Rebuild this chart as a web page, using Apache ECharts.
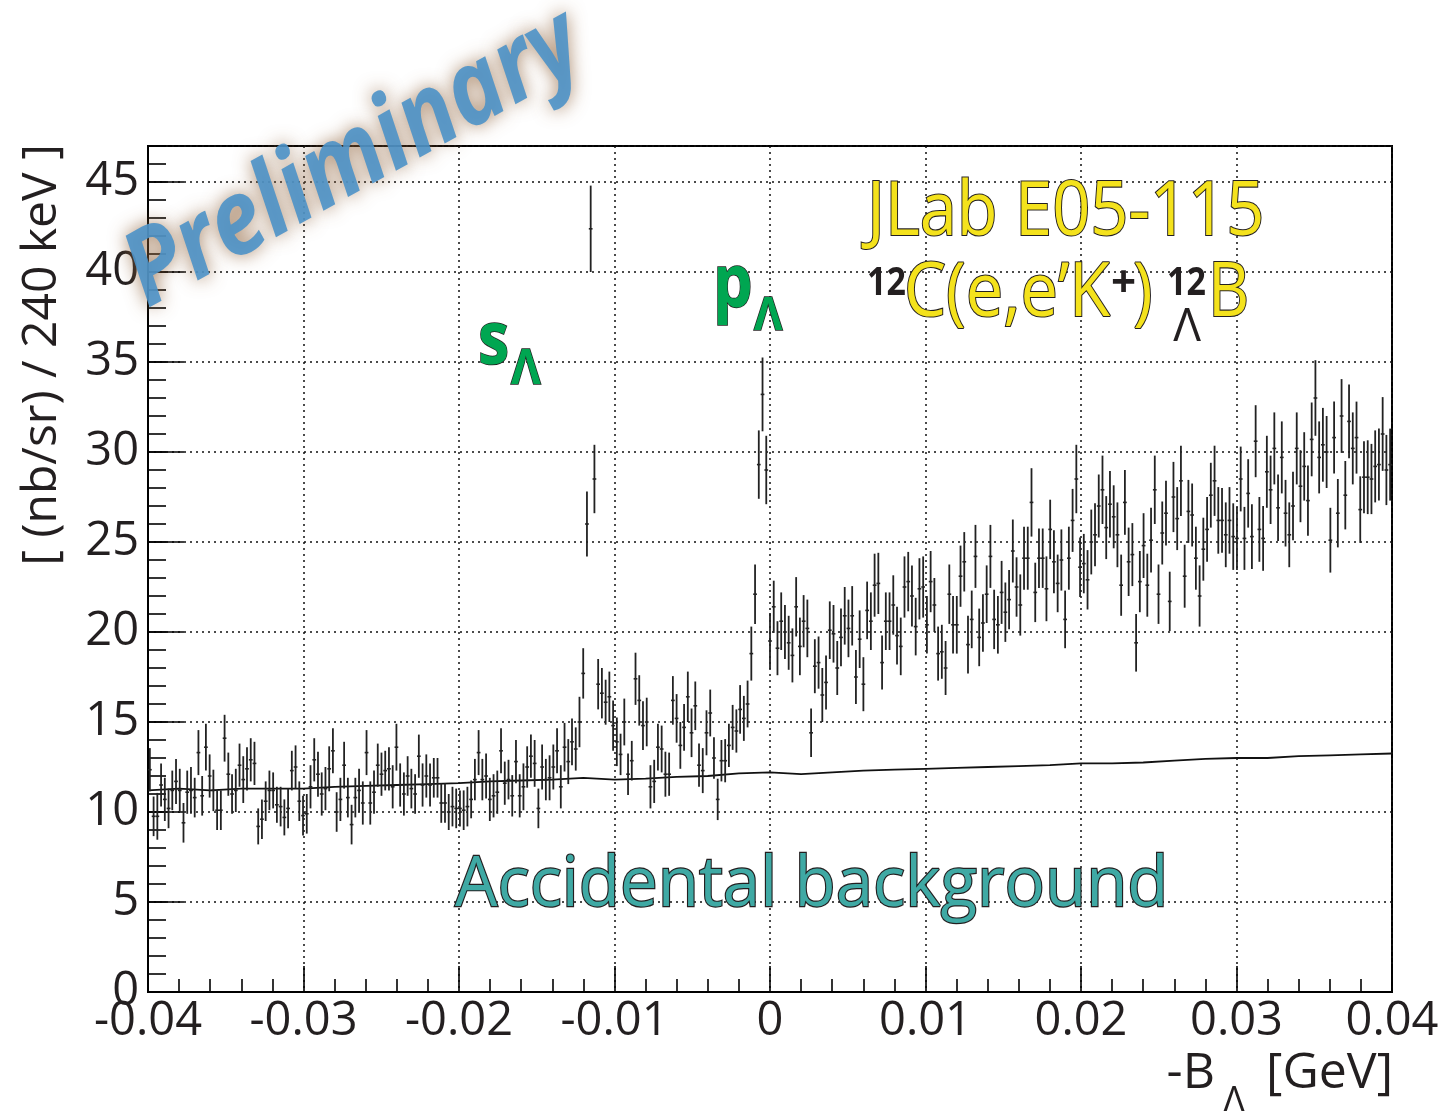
<!DOCTYPE html>
<html><head><meta charset="utf-8">
<script src="https://cdn.jsdelivr.net/npm/echarts@6/dist/echarts.min.js"></script>
<style>html,body{margin:0;padding:0;background:#fff;}#c{width:1448px;height:1111px;}</style>
</head><body><div id="c"></div>
<script>
// ---- axis ranges and tick labels ----
const xMin = -0.04, xMax = 0.04, xStep = 0.01;
const yMin = 0, yMax = 47, yStep = 5;
const xTickLabels = ['-0.04','-0.03','-0.02','-0.01','0','0.01','0.02','0.03','0.04'];
const yTickLabels = ['0','5','10','15','20','25','30','35','40','45'];

// ---- yield per 240 keV bin [(nb/sr)/240 keV], read left to right ----
const yieldSeg1 = [12.35,9.76,9.76,11.5,10.7,10.2,11.2,11.7,11.2,9.4,11.1,11.2,10.8,13.3,10.9,13.6,12.0,11.2,10.1,10.1,14.1,12.1,11.0,11.2,12.6,11.8,12.4,12.9,12.7,9.2,9.6,10.6,11.2,11.2,10.4,10.3,9.7,10.2,12.3,12.5,10.6,9.8,9.9];
const yieldSeg2 = [11.4,12.9,12.1,11.0,11.3,12.4,13.4,10.0,10.7,12.6,10.8,9.3,10.8,11.2,10.5,13.3,10.5,11.1,12.6,12.1,12.3,12.4,11.4,13.6,11.5,11.0,12.0,11.3,11.0,13.1,11.5,12.0,11.5,11.9,11.9,10.5,10.5,10.0,10.3,10.2,10.2,10.1,10.3];
const yieldSeg3 = [10.7,11.8,13.3,11.8,12.0,10.7,10.9,11.1,13.4,11.6,11.8,10.9,12.8,10.9,11.4,12.5,13.1,12.7,10.2,12.5,11.8,11.9,12.5,13.4,11.4,13.6,12.8,13.9,13.5,15.0,17.7,26.0,42.4,28.5,17.1,16.6,16.1,16.4,14.8,13.9,13.2];
const yieldSeg4 = [15.0,12.1,12.85,17.4,16.2,14.8,15.0,11.4,11.7,13.6,13.5,12.1,12.1,16.2,15.2,13.7,14.7,16.4,14.4,15.9,12.6,12.3,14.4,15.5,13.0,10.7,12.85,12.85,13.7,14.7,14.5,15.7,15.2,16.0,18.8,22.1,29.3,33.2,29.0,19.5,21.4,19.1];
const yieldSeg5 = [20.6,20.0,19.4,18.7,21.4,19.2,20.6,20.2,14.4,18.1,18.3,16.5,17.2,20.1,19.9,18.0,19.7,20.9,20.2,20.9,17.5,19.6,17.1,21.2,20.6,22.6,22.7,18.3,20.6,20.6,21.5,19.8,19.2,22.5,22.8,22.0,20.3,22.4,22.5,20.4,22.8];
const yieldSeg6 = [21.5,18.8,18.9,18.0,22.1,20.4,20.4,23.1,23.9,19.3,20.7,24.2,19.7,20.5,22.1,24.2,20.7,20.4,22.2,21.1,21.8,24.5,22.5,21.5,24.1,24.1,27.2,22.2,24.1,24.1,22.4,25.7,23.9,22.7,24.0,20.7,24.1,26.2,28.5,23.6,23.8,22.9];
const yieldSeg7 = [25.0,25.4,27.0,27.9,25.8,27.1,26.4,25.4,22.6,27.2,23.9,24.3,19.4,22.8,24.8,22.6,25.1,27.9,22.1,25.5,26.6,21.7,27.5,26.3,28.4,23.1,26.7,26.5,24.1,22.0,24.6,25.7,27.6,28.4,26.2,26.2,25.4,26.2,25.3];
const yieldSeg8 = [25.2,28.5,25.2,27.7,25.3,30.6,25.7,25.2,28.9,27.9,30.2,26.9,29.7,26.6,25.4,27.0,30.2,28.1,29.2,27.3,30.7,33.0,29.7,30.4,30.0,25.1,30.8,26.6,32.0,27.6,31.7,30.2,30.8,26.8,28.6,28.6,28.5,29.2,29.3,31.0,29.0,29.3];

// ---- statistical error (half length of each error bar) ----
const errSeg1 = [1.2,1.1,1.3,1.2,1.2,1.1,1.1,1.25,1.2,1.1,1.2,1.3,1.1,1.25,1.1,1.3,1.2,1.15,1.1,1.1,1.3,1.2,1.1,1.2,1.2,1.3,1.2,1.2,1.2,1.0,1.1,1.1,1.1,1.0,1.0,1.1,1.0,1.1,1.1,1.2,1.1,1.1,1.1];
const errSeg2 = [1.2,1.2,1.25,1.2,1.2,1.25,1.25,1.1,1.2,1.3,1.1,1.1,1.1,1.2,1.2,1.25,1.2,1.2,1.2,1.2,1.1,1.2,1.2,1.3,1.2,1.2,1.1,1.1,1.1,1.2,1.2,1.2,1.2,1.1,1.1,1.1,1.1,1.0,1.1,1.1,1.0,1.1,1.1];
const errSeg3 = [1.05,1.15,1.25,1.15,1.25,1.2,1.2,1.2,1.25,1.2,1.1,1.15,1.2,1.2,1.3,1.15,1.2,1.3,1.1,1.25,1.15,1.25,1.25,1.25,1.2,1.35,1.25,1.3,1.2,1.4,1.4,1.8,2.4,1.9,1.4,1.4,1.25,1.4,1.4,1.35,1.15];
const errSeg4 = [1.3,1.15,1.1,1.45,1.4,1.35,1.35,1.2,1.2,1.3,1.3,1.25,1.2,1.35,1.35,1.3,1.3,1.4,1.35,1.35,1.2,1.25,1.25,1.3,1.15,1.15,1.15,1.2,1.2,1.25,1.2,1.35,1.25,1.3,1.5,1.65,1.9,2.05,1.9,1.55,1.45,1.5];
const errSeg5 = [1.6,1.5,1.5,1.5,1.65,1.6,1.45,1.6,1.35,1.5,1.45,1.5,1.5,1.6,1.6,1.5,1.6,1.6,1.6,1.65,1.5,1.6,1.5,1.6,1.6,1.75,1.7,1.5,1.6,1.6,1.65,1.6,1.6,1.7,1.65,1.7,1.6,1.7,1.7,1.6,1.7];
const errSeg6 = [1.5,1.5,1.5,1.5,1.65,1.6,1.6,1.7,1.65,1.6,1.6,1.75,1.6,1.6,1.6,1.75,1.65,1.6,1.75,1.65,1.65,1.75,1.65,1.7,1.75,1.75,1.9,1.65,1.65,1.65,1.8,1.65,1.75,1.6,1.7,1.6,1.75,1.75,1.9,1.65,1.65,1.65];
const errSeg7 = [1.8,1.75,1.75,1.9,1.75,1.85,1.75,1.8,1.7,1.8,1.9,1.75,1.6,1.7,1.8,1.75,1.8,1.9,1.65,1.75,1.8,1.65,1.95,1.75,1.95,1.75,1.75,1.75,1.75,1.7,1.75,1.8,1.8,1.95,1.85,1.8,1.8,1.85,1.85];
const errSeg8 = [1.75,1.8,1.75,1.9,1.8,2.0,1.8,1.8,2.0,1.9,2.0,1.85,2.0,1.85,1.8,1.9,2.0,2.0,1.9,1.95,2.05,2.1,2.0,2.05,2.0,1.8,2.0,1.9,2.05,1.9,2.05,2.0,2.0,1.85,2.0,2.05,1.95,2.0,2.0,2.05,1.95,2.0];

// ---- accidental background estimate ----
const bgX = [-0.040,-0.038,-0.036,-0.034,-0.032,-0.030,-0.028,-0.026,-0.024,-0.022,-0.020,-0.018,-0.016,-0.014,-0.012,-0.010,-0.008,-0.006,-0.004,-0.002,0.000,0.002,0.004,0.006,0.008,0.010,0.012,0.014,0.016,0.018,0.020,0.022,0.024,0.026,0.028,0.030,0.032,0.034,0.036,0.038,0.040];
const bgY = [11.2,11.3,11.2,11.3,11.3,11.3,11.4,11.45,11.5,11.55,11.6,11.7,11.75,11.8,11.9,11.8,11.85,11.95,12.0,12.15,12.2,12.1,12.2,12.3,12.35,12.4,12.45,12.5,12.55,12.6,12.7,12.7,12.75,12.85,12.95,13.0,13.0,13.1,13.15,13.2,13.25];

const counts = [].concat(yieldSeg1,yieldSeg2,yieldSeg3,yieldSeg4,yieldSeg5,yieldSeg6,yieldSeg7,yieldSeg8);
const errs = [].concat(errSeg1,errSeg2,errSeg3,errSeg4,errSeg5,errSeg6,errSeg7,errSeg8);
const nBins = counts.length;
const binW = (xMax - xMin) / nBins;
const histData = counts.map((v, i) => [xMin + (i + 0.5) * binW, v, errs[i]]);
const bgData = bgX.map((x, i) => [x, bgY[i]]);

const FONT = '"Open Sans", "Noto Sans", sans-serif';
const INK = '#231f20';
const GL = 148, GT = 146, GW = 1244, GH = 846;

const chart = echarts.init(document.getElementById('c'), null, {renderer: 'canvas'});

function txt(opt) {
  const st = Object.assign({
    fontFamily: '"Open Sans", "Noto Sans", sans-serif',
    align: opt.align || 'left', textAlign: opt.align || 'left',
    verticalAlign: 'middle', textVerticalAlign: 'middle'
  }, opt.style);
  return {type: 'text', x: opt.x, y: opt.y, rotation: opt.rotation || 0,
          scaleX: opt.scaleX || 1, scaleY: 1, z: opt.z || 100, silent: true, style: st};
}

const YEL = '#f4e21c', GRN = '#00a651';
const graphics = [
  // y axis title
  txt({x: 42, y: 355, rotation: Math.PI / 2, align: 'center',
       style: {text: '[ (nb/sr) / 240 keV ]', fontSize: 48, fill: INK}}),
  // x axis title
  txt({x: 1215, y: 1074, align: 'right', style: {text: '-B', fontSize: 50, fill: INK}}),
  txt({x: 1234, y: 1102, align: 'center', style: {text: 'Λ', fontSize: 36, fill: INK}}),
  txt({x: 1393, y: 1074, align: 'right', style: {text: '[GeV]', fontSize: 50, fill: INK}}),
  // experiment label
  txt({x: 867, y: 214, scaleX: 0.89, style: {text: 'JLab E05-115', fontSize: 75, fill: YEL, stroke: INK, lineWidth: 2.2}}),
  txt({x: 867, y: 284, scaleX: 0.85, style: {text: '12', fontSize: 40, fontWeight: 'bold', fill: INK}}),
  txt({x: 904, y: 295, scaleX: 0.89, style: {text: 'C(e,e’K', fontSize: 75, fill: YEL, stroke: INK, lineWidth: 2.2}}),
  txt({x: 1111, y: 284, style: {text: '+', fontSize: 44, fontWeight: 'bold', fill: INK}}),
  txt({x: 1133, y: 295, scaleX: 0.89, style: {text: ')', fontSize: 75, fill: YEL, stroke: INK, lineWidth: 2.2}}),
  txt({x: 1167, y: 284, scaleX: 0.85, style: {text: '12', fontSize: 40, fontWeight: 'bold', fill: INK}}),
  txt({x: 1187, y: 328, align: 'center', style: {text: 'Λ', fontSize: 46, fill: INK}}),
  txt({x: 1208, y: 295, scaleX: 0.85, style: {text: 'B', fontSize: 75, fill: YEL, stroke: INK, lineWidth: 2.2}}),
  // peak labels
  txt({x: 478, y: 343, scaleX: 0.85, style: {text: 's', fontSize: 74, fontWeight: 'bold', fill: GRN, stroke: INK, lineWidth: 1.5}}),
  txt({x: 511, y: 370, scaleX: 0.95, style: {text: 'Λ', fontSize: 48, fontWeight: 'bold', fill: GRN, stroke: INK, lineWidth: 1.5}}),
  txt({x: 713, y: 286, scaleX: 0.85, style: {text: 'p', fontSize: 74, fontWeight: 'bold', fill: GRN, stroke: INK, lineWidth: 1.5}}),
  txt({x: 754, y: 317, scaleX: 0.95, style: {text: 'Λ', fontSize: 46, fontWeight: 'bold', fill: GRN, stroke: INK, lineWidth: 1.5}}),
  // background label
  txt({x: 455, y: 886, scaleX: 0.96, style: {text: 'Accidental background', fontSize: 70, fill: '#3fa9a4', stroke: INK, lineWidth: 2.4}}),
  // watermark
  txt({x: 354, y: 160, rotation: 29 * Math.PI / 180, align: 'center', scaleX: 0.88, z: 200,
       style: {text: 'Preliminary', fontSize: 104, fontWeight: 'bold', fontStyle: 'italic',
               fill: 'rgba(76,146,200,0.9)',
               shadowColor: 'rgba(140,95,55,0.85)', shadowBlur: 18,
               textShadowColor: 'rgba(140,95,55,0.85)', textShadowBlur: 18}})
];

const dotted = {color: '#111', width: 1.5, type: [2, 4]};

const option = {
  animation: false,
  backgroundColor: '#fff',
  grid: {left: GL, top: GT, width: GW, height: GH, show: true, borderColor: '#000', borderWidth: 2, backgroundColor: 'transparent'},
  xAxis: {
    type: 'value', min: xMin, max: xMax, interval: xStep,
    axisLine: {show: true, onZero: false, lineStyle: {color: '#000', width: 2}},
    axisTick: {show: true, inside: true, length: 26, lineStyle: {color: '#000', width: 1.6}},
    minorTick: {show: true, splitNumber: 5, length: 13, lineStyle: {color: '#000', width: 1.6}},
    splitLine: {show: true, lineStyle: dotted},
    axisLabel: {fontFamily: FONT, fontSize: 47, color: INK, margin: 6,
      formatter: v => xTickLabels[Math.round((v - xMin) / xStep)] || ''}
  },
  yAxis: [{
    type: 'value', min: yMin, max: yMax, interval: yStep,
    axisLine: {show: true, onZero: false, lineStyle: {color: '#000', width: 2}},
    axisTick: {show: true, inside: true, length: 36, lineStyle: {color: '#000', width: 1.6}},
    splitLine: {show: true, lineStyle: dotted},
    axisLabel: {fontFamily: FONT, fontSize: 47, color: INK, margin: 9, showMaxLabel: false,
      formatter: v => { const k = Math.round(v / yStep); return (Math.abs(v - k * yStep) < 1e-6 && yTickLabels[k] !== undefined) ? yTickLabels[k] : ''; }}
  }, {
    type: 'value', min: yMin, max: yMax, interval: 1, position: 'left',
    axisLine: {show: false, onZero: false},
    axisTick: {show: true, inside: true, length: 18, lineStyle: {color: '#000', width: 1.6}},
    splitLine: {show: false},
    axisLabel: {show: false}
  }],
  series: [{
    type: 'line', name: 'Accidental background', data: bgData, yAxisIndex: 0,
    showSymbol: false, symbol: 'none', lineStyle: {color: '#111', width: 1.8}, z: 3
  }, {
    type: 'custom', name: 'Yield', data: histData, yAxisIndex: 0,
    encode: {x: 0, y: 1}, z: 4,
    renderItem: function (params, api) {
      const x = api.value(0), y = api.value(1), e = api.value(2);
      const top = api.coord([x, y + e]);
      const bot = api.coord([x, y - e]);
      const l = api.coord([x - binW / 2, y]);
      const r = api.coord([x + binW / 2, y]);
      return {type: 'group', children: [
        {type: 'line', shape: {x1: top[0], y1: top[1], x2: bot[0], y2: bot[1]}, style: {stroke: '#222', lineWidth: 1.8}},
        {type: 'line', shape: {x1: l[0], y1: l[1], x2: r[0], y2: r[1]}, style: {stroke: '#222', lineWidth: 1.6}}
      ]};
    }
  }],
  graphic: graphics
};
chart.setOption(option);
</script>
</body></html>
